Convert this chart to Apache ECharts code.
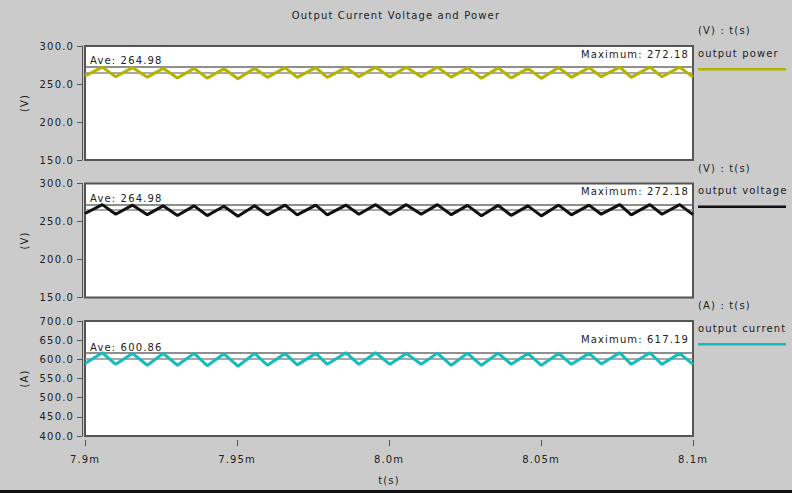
<!DOCTYPE html>
<html>
<head>
<meta charset="utf-8">
<style>
  html, body { margin: 0; padding: 0; background: #cbcbcb; }
  #chart { width: 792px; height: 493px; letter-spacing: 1.15px; }
  #chart text { letter-spacing: 1.15px; }
</style>
<script src="https://cdn.jsdelivr.net/npm/echarts@6/dist/echarts.min.js"></script>
</head>
<body>
<div id="chart"></div>
<script>
// Simulation time in microseconds; labels shown in ms ("m" suffix)
const timeTickLabels = ['7.9m', '7.95m', '8.0m', '8.05m', '8.1m'];

// Ripple vertices: start, then alternating peak / trough
const rippleTimes = [
  7900,
  7905.7, 7910.1, 7915.6, 7920.5, 7925.7, 7930.4, 7935.9, 7940.2, 7945.7, 7950.3,
  7955.8, 7960.0, 7965.8, 7969.8, 7975.9, 7979.7, 7985.8, 7990.1, 7995.6, 8000.3,
  8005.7, 8010.6, 8015.9, 8020.5, 8025.8, 8030.4, 8035.9, 8040.2, 8045.7, 8050.1,
  8055.8, 8060.0, 8065.8, 8069.8, 8075.9, 8079.7, 8085.8, 8089.8, 8095.6, 8100
];

const outputPower = [
  260.5,
  272.18, 259.6, 271.6, 259.0, 270.6, 257.8, 270.6, 257.8, 270.0, 256.8,
  270.6, 258.8, 271.6, 258.8, 271.6, 258.8, 271.6, 259.6, 272.18, 259.2,
  272.18, 259.6, 272.18, 259.0, 271.2, 257.6, 271.2, 258.0, 270.6, 257.4,
  271.6, 258.8, 271.6, 259.6, 272.18, 258.8, 272.18, 259.6, 272.18, 259.0
];

const outputVoltage = [
  260.5,
  272.18, 259.6, 271.6, 259.0, 270.6, 257.8, 270.6, 257.8, 270.0, 256.8,
  270.6, 258.8, 271.6, 258.8, 271.6, 258.8, 271.6, 259.6, 272.18, 259.2,
  272.18, 259.6, 272.18, 259.0, 271.2, 257.6, 271.2, 258.0, 270.6, 257.4,
  271.6, 258.8, 271.6, 259.6, 272.18, 258.8, 272.18, 259.6, 272.18, 259.0
];

const outputCurrent = [
  589.0,
  617.19, 587.0, 615.5, 584.5, 615.5, 584.5, 615.5, 583.5, 614.5, 582.0,
  615.5, 584.5, 615.5, 585.5, 615.5, 587.0, 617.19, 587.0, 617.19, 587.0,
  615.5, 587.0, 616.2, 584.5, 616.2, 584.5, 616.2, 587.0, 615.5, 584.5,
  615.5, 587.0, 615.5, 588.0, 617.19, 587.0, 617.19, 587.0, 615.5, 587.0
];

// Measurement readouts per trace
const powerStats   = { ave: 264.98, max: 272.18 };
const voltageStats = { ave: 264.98, max: 272.18 };
const currentStats = { ave: 600.86, max: 617.19 };

const FONT = 'DejaVu Sans';
const FS = 10;
const TXT = '#222';
const AXIS = '#555';

const panels = [
  { name: 'output power',   unit: '(V)', values: outputPower,   stats: powerStats,   color: '#b3b300', min: 150, max: 300, top: 46,    height: 114 },
  { name: 'output voltage', unit: '(V)', values: outputVoltage, stats: voltageStats, color: '#111111', min: 150, max: 300, top: 183.5, height: 114 },
  { name: 'output current', unit: '(A)', values: outputCurrent, stats: currentStats, color: '#14bcbc', min: 400, max: 700, top: 321,   height: 115 }
];

const PLOT_LEFT = 85, PLOT_RIGHT = 99;

const grid = panels.map(p => ({
  left: PLOT_LEFT, right: PLOT_RIGHT, top: p.top, height: p.height,
  show: true, backgroundColor: '#ffffff', borderColor: AXIS, borderWidth: 2
}));

const xAxis = panels.map((p, i) => {
  const last = i === panels.length - 1;
  return {
    type: 'value', gridIndex: i, min: 7900, max: 8100, interval: 50,
    show: last,
    offset: 4,
    axisLine: { show: false },
    axisTick: { show: last, length: 6, lineStyle: { color: AXIS, width: 1 } },
    axisLabel: {
      show: last, margin: 14, color: TXT, fontFamily: FONT, fontSize: FS,
      formatter: v => timeTickLabels[Math.round((v - 7900) / 50)]
    },
    splitLine: { show: false },
    name: last ? 't(s)' : '',
    nameLocation: 'middle', nameGap: 35,
    nameTextStyle: { color: TXT, fontFamily: FONT, fontSize: FS }
  };
});

const yAxis = panels.map((p, i) => ({
  type: 'value', gridIndex: i, min: p.min, max: p.max, interval: 50,
  offset: 3,
  axisLine: { show: true, lineStyle: { color: AXIS, width: 1 } },
  axisTick: { show: true, length: 5, lineStyle: { color: AXIS, width: 1 } },
  axisLabel: { margin: 8, color: TXT, fontFamily: FONT, fontSize: FS, formatter: v => v.toFixed(1) },
  splitLine: { show: false },
  name: p.unit, nameLocation: 'middle', nameRotate: 90, nameGap: 53,
  nameTextStyle: { color: TXT, fontFamily: FONT, fontSize: FS }
}));

const series = panels.map((p, i) => ({
  name: p.name,
  type: 'line',
  xAxisIndex: i, yAxisIndex: i,
  data: rippleTimes.map((t, k) => [t, p.values[k]]),
  showSymbol: false,
  lineStyle: { color: p.color, width: 3 },
  itemStyle: { color: p.color },
  z: 3,
  markLine: {
    silent: true, symbol: 'none', animation: false, z: 2,
    data: [
      {
        yAxis: p.stats.max,
        lineStyle: { color: '#6a6a6a', width: 1.5, type: 'solid' },
        label: {
          show: true, position: 'insideEndTop', distance: [4, 8],
          formatter: 'Maximum: ' + p.stats.max.toFixed(2),
          color: TXT, fontFamily: FONT, fontSize: FS
        }
      },
      {
        yAxis: p.stats.ave,
        lineStyle: { color: '#8c8c8c', width: 1.5, type: 'solid' },
        label: {
          show: true, position: 'insideStartTop', distance: [5, 7],
          formatter: 'Ave: ' + p.stats.ave.toFixed(2),
          color: TXT, fontFamily: FONT, fontSize: FS
        }
      }
    ]
  }
}));

// Legend block to the right of each panel: unit header, trace name, colour swatch
const font = FS + 'px "' + FONT + '"';
const graphic = [
  {
    type: 'text', x: 396, y: 15,
    style: { text: 'Output Current Voltage and Power', font, fill: TXT, align: 'center', verticalAlign: 'middle' }
  },
  { type: 'rect', shape: { x: 0, y: 490, width: 792, height: 3 }, style: { fill: '#111' } }
];
panels.forEach(p => {
  graphic.push({
    type: 'text', x: 698, y: p.top - 15.5,
    style: { text: p.unit + ' : t(s)', font, fill: TXT, align: 'left', verticalAlign: 'middle' }
  });
  graphic.push({
    type: 'text', x: 698, y: p.top + 7,
    style: { text: p.name, font, fill: TXT, align: 'left', verticalAlign: 'middle' }
  });
  graphic.push({
    type: 'line', shape: { x1: 698, y1: p.top + 23.3, x2: 786, y2: p.top + 23.3 },
    style: { stroke: p.color, lineWidth: 2.5 }
  });
});

const chart = echarts.init(document.getElementById('chart'), null, { renderer: 'svg' });
chart.setOption({
  backgroundColor: '#cbcbcb',
  animation: false,
  grid, xAxis, yAxis, series, graphic
});
</script>
</body>
</html>
